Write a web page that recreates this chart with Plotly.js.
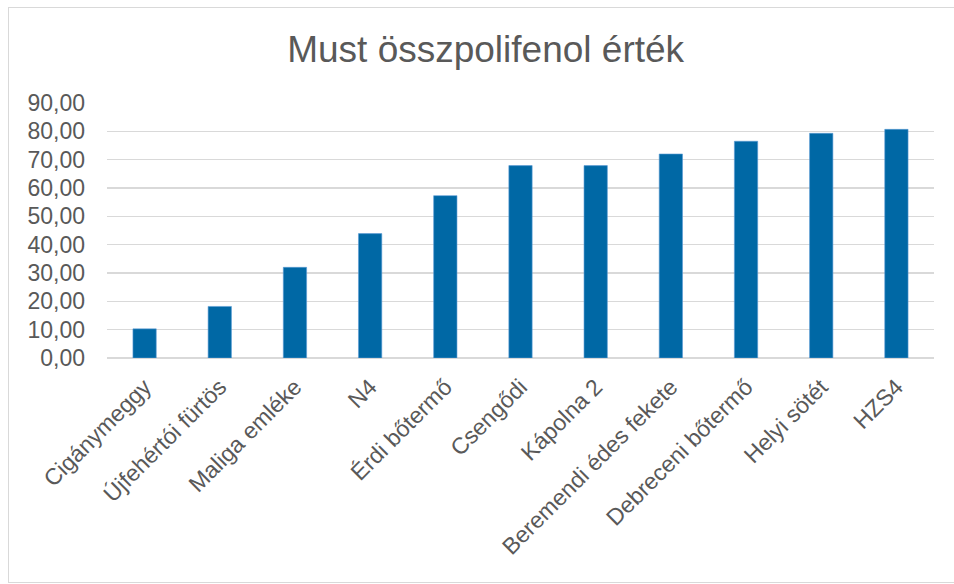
<!DOCTYPE html>
<html>
<head>
<meta charset="utf-8">
<script src="https://cdn.plot.ly/plotly-3.0.1.min.js"></script>
<style>
  html, body { margin: 0; padding: 0; background: #ffffff; overflow: hidden; width: 954px; height: 584px; }
  #frame { position: absolute; left: 8px; top: 7px; width: 946px; height: 574px; border-top: 1.5px solid #d9d9d9; border-left: 1.5px solid #d9d9d9; border-bottom: 1.5px solid #d9d9d9; background: #fff; overflow: hidden; }
  #chart { position: absolute; left: 0; top: 0; width: 960px; height: 574px; }
</style>
</head>
<body>
<div id="frame"><div id="chart"></div></div>
<script>
const categories = ["Cigánymeggy", "Újfehértói fürtös", "Maliga emléke", "N4", "Érdi bőtermő", "Csengődi", "Kápolna 2", "Beremendi édes fekete", "Debreceni bőtermő", "Helyi sötét", "HZS4"];
const values = [10.3, 18.2, 32.0, 43.9, 57.3, 67.9, 67.9, 72.0, 76.5, 79.3, 80.7];
const yTickVals = [0, 10, 20, 30, 40, 50, 60, 70, 80, 90];
const yTickText = ["0,00", "10,00", "20,00", "30,00", "40,00", "50,00", "60,00", "70,00", "80,00", "90,00"];
const chartTitle = "Must összpolifenol érték";

const trace = {
  type: "bar",
  x: categories,
  y: values,
  marker: { color: "#0068a5", line: { color: "#5b9bd5", width: 0.6 } },
  hoverinfo: "x+y"
};

const layout = {
  width: 960,
  height: 574,
  margin: { l: 97.5, r: 35, t: 94.8, b: 224 },
  paper_bgcolor: "#ffffff",
  plot_bgcolor: "#ffffff",
  font: { family: "Liberation Sans, Arial, sans-serif", color: "#595959", size: 23 },
  title: {
    text: chartTitle,
    font: { family: "Liberation Sans, Arial, sans-serif", size: 37, color: "#595959" },
    x: 0.4965, xref: "container", xanchor: "center",
    y: 0.928, yref: "container", yanchor: "middle"
  },
  bargap: 0.69,
  showlegend: false,
  xaxis: {
    type: "category",
    tickangle: -45,
    showgrid: false,
    showline: false,
    ticks: "",
    ticklabelstandoff: 10,
    tickfont: { size: 23, color: "#595959" },
    automargin: false
  },
  yaxis: {
    range: [0, 90],
    tickvals: yTickVals,
    ticktext: yTickText,
    showgrid: true,
    gridcolor: "#d9d9d9",
    gridwidth: 1.5,
    zeroline: true,
    zerolinecolor: "#d9d9d9",
    zerolinewidth: 1.5,
    showline: false,
    ticks: "",
    ticklabelstandoff: 21,
    tickfont: { size: 23, color: "#595959" },
    automargin: false
  }
};

Plotly.newPlot("chart", [trace], layout, { displayModeBar: false, staticPlot: true });
</script>
</body>
</html>
